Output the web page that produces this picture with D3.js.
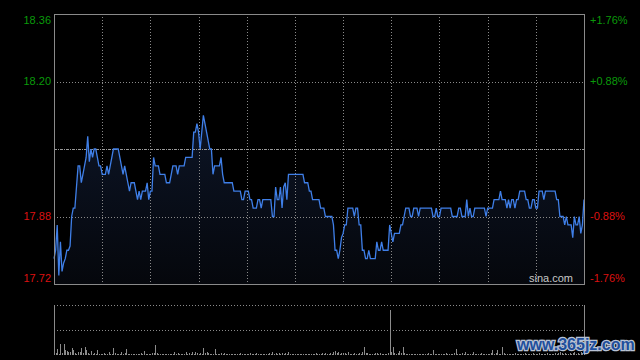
<!DOCTYPE html>
<meta charset="utf-8">
<head>
  <title>分时图</title>
</head>
<body>
<style>
body { margin: 0; background: #000; }
svg { display: block; background: #000; }
.lbl { font: 11px "Liberation Sans", Arial, sans-serif; }
.grid { stroke: #8a8a8a; stroke-width: 1; stroke-dasharray: 1,2; shape-rendering: crispEdges; }
.frame { stroke: #8a8a8a; stroke-width: 1; fill: none; shape-rendering: crispEdges; }
</style>
<svg width="640" height="360"></svg>
<script src="https://d3js.org/d3.v7.min.js"></script>
<script>

// price per minute, HK session (330 minutes)
var prices = [
  17.78,17.80,17.86,17.74,17.82,17.75,17.77,17.78,17.80,17.80,
  17.81,17.88,17.90,17.90,17.95,18.00,18.00,17.96,17.98,18.00,
  18.02,18.07,18.01,18.04,18.02,18.04,18.04,18.02,18.00,18.00,
  17.98,17.98,17.98,18.00,17.98,18.00,18.02,18.04,18.04,18.04,
  18.04,18.02,18.00,17.98,18.00,17.98,17.96,17.94,17.96,17.96,
  17.96,17.94,17.92,17.94,17.92,17.94,17.94,17.94,17.96,17.92,
  17.94,17.94,18.02,18.00,18.00,18.00,17.98,17.98,17.98,17.98,
  17.96,17.96,17.96,17.98,18.00,18.00,18.00,17.98,18.00,18.00,
  18.00,18.00,18.02,18.02,18.02,18.02,18.02,18.08,18.08,18.10,
  18.08,18.04,18.08,18.12,18.10,18.08,18.06,18.04,18.04,17.98,
  18.00,18.00,18.00,18.00,18.02,17.98,17.96,17.96,17.96,17.96,
  17.96,17.96,17.94,17.94,17.94,17.94,17.94,17.92,17.92,17.94,
  17.94,17.94,17.92,17.92,17.90,17.90,17.90,17.92,17.92,17.90,
  17.92,17.92,17.92,17.92,17.92,17.92,17.88,17.88,17.95,17.92,
  17.92,17.95,17.90,17.95,17.96,17.92,17.98,17.98,17.98,17.98,
  17.98,17.98,17.98,17.98,17.98,17.98,17.96,17.96,17.96,17.94,
  17.94,17.92,17.92,17.92,17.92,17.92,17.90,17.90,17.90,17.88,
  17.88,17.88,17.88,17.88,17.86,17.80,17.80,17.78,17.80,17.83,
  17.84,17.86,17.86,17.90,17.90,17.90,17.90,17.88,17.90,17.90,
  17.86,17.86,17.80,17.80,17.78,17.78,17.80,17.78,17.78,17.78,
  17.78,17.82,17.80,17.80,17.82,17.80,17.80,17.80,17.80,17.86,
  17.84,17.82,17.84,17.84,17.84,17.84,17.86,17.86,17.88,17.90,
  17.90,17.90,17.88,17.88,17.90,17.90,17.90,17.88,17.90,17.90,
  17.90,17.90,17.90,17.90,17.90,17.90,17.88,17.88,17.90,17.88,
  17.88,17.90,17.90,17.90,17.90,17.90,17.90,17.90,17.88,17.88,
  17.88,17.88,17.90,17.90,17.88,17.88,17.88,17.92,17.88,17.90,
  17.88,17.88,17.90,17.90,17.90,17.90,17.90,17.90,17.90,17.88,
  17.90,17.90,17.90,17.90,17.92,17.92,17.92,17.92,17.94,17.92,
  17.92,17.92,17.90,17.92,17.90,17.92,17.92,17.90,17.92,17.92,
  17.94,17.94,17.94,17.94,17.92,17.92,17.90,17.90,17.92,17.92,
  17.90,17.90,17.94,17.94,17.94,17.92,17.94,17.94,17.94,17.94,
  17.94,17.94,17.94,17.92,17.92,17.88,17.88,17.88,17.86,17.88,
  17.86,17.86,17.86,17.83,17.88,17.86,17.86,17.88,17.84,17.86,
  17.92
];

// volume per minute (thousand shares)
var volumes = [
  60,20,63,15,110,20,110,50,45,30,
  35,70,50,20,15,30,35,70,25,80,
  50,20,10,40,15,20,10,50,15,10,
  10,20,10,15,35,10,15,70,20,10,
  15,10,35,10,20,60,10,15,10,10,
  10,15,10,10,20,15,40,10,10,15,
  10,20,20,100,20,10,10,15,10,10,
  10,10,15,10,10,30,15,20,10,10,
  15,10,30,15,25,10,30,15,35,25,
  15,20,15,70,20,35,25,10,15,15,
  60,10,15,10,20,10,20,10,15,10,
  10,15,10,10,15,10,20,10,10,10,
  15,10,20,10,10,15,20,10,10,15,
  10,10,15,10,20,10,30,15,25,10,
  20,10,25,15,20,10,35,15,10,10,
  10,15,10,10,10,15,10,10,15,10,
  10,15,10,20,10,10,15,20,10,25,
  10,15,20,10,35,40,20,30,15,20,
  25,20,15,30,10,15,10,20,15,10,
  20,15,30,85,20,25,15,10,10,15,
  25,20,15,20,10,15,10,10,20,450,
  30,80,20,15,20,40,20,80,20,15,
  10,15,10,10,15,10,10,15,10,10,
  15,10,10,20,10,15,50,10,10,15,
  10,10,15,10,20,10,10,15,10,20,
  60,10,15,10,25,10,30,10,15,10,
  15,35,10,10,15,10,20,10,10,15,
  10,15,20,50,15,20,55,15,10,80,
  20,10,15,10,10,15,10,20,10,15,
  10,15,10,25,10,15,10,10,20,10,
  15,10,20,10,15,10,10,20,10,15,
  10,15,20,10,25,30,20,15,20,10,
  15,20,10,25,30,15,20,15,30,25,
  40
];

var prevClose = 18.04;
var priceTicks = [18.36, 18.20, 17.88, 17.72];
var pctTicks = ["+1.76%", "+0.88%", "-0.88%", "-1.76%"];
var volMax = 500;

var svg = d3.select("svg"),
    pLeft = 54, pRight = 584,
    pTop = 14, pBottom = 284,
    vTop = 305, vBottom = 355;

var x = d3.scaleLinear().domain([0, 330]).range([pLeft, pRight]);
var y = d3.scaleLinear().domain([17.72, 18.36]).range([pBottom, pTop]);
var yv = d3.scaleLinear().domain([0, volMax]).range([vBottom, vTop]);

var defs = svg.append("defs");
var grad = defs.append("linearGradient")
    .attr("id", "fillGrad")
    .attr("gradientUnits", "userSpaceOnUse")
    .attr("x1", 0).attr("y1", pTop).attr("x2", 0).attr("y2", pBottom);
grad.append("stop").attr("offset", "0%").attr("stop-color", "#111d36");
grad.append("stop").attr("offset", "100%").attr("stop-color", "#05070c");

// area under price line
var area = d3.area()
    .x(function(d, i) { return x(i); })
    .y0(pBottom)
    .y1(function(d) { return y(d); });

svg.append("path")
    .datum(prices)
    .attr("d", area)
    .attr("fill", "url(#fillGrad)");

// vertical grid (every 30 minutes)
var vgrid = d3.range(30, 330, 30);
svg.selectAll(".vgrid")
    .data(vgrid)
    .enter().append("line")
    .attr("class", "grid")
    .attr("x1", function(d) { return Math.round(x(d)) + 0.5; })
    .attr("x2", function(d) { return Math.round(x(d)) + 0.5; })
    .attr("y1", pTop).attr("y2", pBottom);

// horizontal grid
svg.selectAll(".hgrid")
    .data([18.20, 17.88])
    .enter().append("line")
    .attr("class", "grid")
    .attr("x1", pLeft).attr("x2", pRight)
    .attr("y1", function(d) { return Math.round(y(d)) + 0.5; })
    .attr("y2", function(d) { return Math.round(y(d)) + 0.5; });

// previous close, dash-dot
svg.append("line")
    .attr("x1", pLeft).attr("x2", pRight)
    .attr("y1", Math.round(y(prevClose)) + 0.5)
    .attr("y2", Math.round(y(prevClose)) + 0.5)
    .attr("stroke", "#9a9a9a")
    .attr("stroke-dasharray", "3,1,1,1")
    .attr("shape-rendering", "crispEdges");

// price line
var line = d3.line()
    .x(function(d, i) { return x(i); })
    .y(function(d) { return y(d); });

svg.append("path")
    .datum(prices)
    .attr("d", line)
    .attr("fill", "none")
    .attr("stroke", "#3f7fe8")
    .attr("stroke-width", 1.3);

// frame
svg.append("rect")
    .attr("class", "frame")
    .attr("x", pLeft + 0.5).attr("y", pTop + 0.5)
    .attr("width", pRight - pLeft).attr("height", pBottom - pTop);

// axis labels
svg.selectAll(".lp")
    .data(priceTicks)
    .enter().append("text")
    .attr("class", "lbl")
    .attr("x", 51)
    .attr("y", function(d, i) { return y(d) + (i == 0 ? 6 : i == 3 ? -6 : 0); })
    .attr("dy", "0.35em")
    .attr("text-anchor", "end")
    .attr("fill", function(d) { return d > prevClose ? "#0a9a0a" : "#dd1111"; })
    .text(function(d) { return d.toFixed(2); });

svg.selectAll(".rp")
    .data(pctTicks)
    .enter().append("text")
    .attr("class", "lbl")
    .attr("x", 590)
    .attr("y", function(d, i) { return y(priceTicks[i]) + (i == 0 ? 6 : i == 3 ? -6 : 0); })
    .attr("dy", "0.35em")
    .attr("fill", function(d) { return d[0] == "+" ? "#0a9a0a" : "#dd1111"; })
    .text(function(d) { return d; });

svg.append("text")
    .attr("class", "lbl")
    .attr("x", 573).attr("y", 282)
    .attr("text-anchor", "end")
    .attr("fill", "#c8c8c8")
    .text("sina.com");

// volume panel
svg.selectAll(".vg")
    .data([volMax, volMax / 2])
    .enter().append("line")
    .attr("class", "grid")
    .attr("x1", pLeft).attr("x2", pRight)
    .attr("y1", function(d) { return Math.round(yv(d)) + 0.5; })
    .attr("y2", function(d) { return Math.round(yv(d)) + 0.5; });

svg.selectAll(".vol")
    .data(volumes)
    .enter().append("line")
    .attr("x1", function(d, i) { return Math.round(x(i)) + 0.5; })
    .attr("x2", function(d, i) { return Math.round(x(i)) + 0.5; })
    .attr("y1", vBottom)
    .attr("y2", function(d) { return yv(d); })
    .attr("stroke", "#8c8c8c")
    .attr("shape-rendering", "crispEdges");

svg.append("line").attr("class", "frame")
    .attr("x1", pLeft + 0.5).attr("x2", pLeft + 0.5).attr("y1", vTop).attr("y2", vBottom);
svg.append("line").attr("class", "frame")
    .attr("x1", pRight + 0.5).attr("x2", pRight + 0.5).attr("y1", vTop).attr("y2", vBottom);

// site watermark
svg.append("text")
    .attr("x", 517).attr("y", 350)
    .attr("font-family", "Liberation Sans, Arial, sans-serif")
    .attr("font-weight", "bold")
    .attr("font-size", 16)
    .attr("fill", "#1f4f9c")
    .attr("stroke", "#b8c2d4")
    .attr("stroke-width", 2.5)
    .attr("paint-order", "stroke")
    .text("www.365jz.com");

</script>
</body>
</html>
